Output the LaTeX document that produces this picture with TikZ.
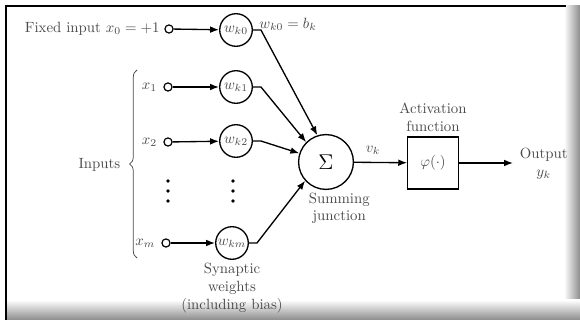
\documentclass[tikz,border=0pt]{standalone}
\usepackage{amsmath,amssymb}
\usepackage{xcolor}
\usepackage{tikz}
\usetikzlibrary{arrows.meta,positioning,calc,decorations.pathreplacing}
\definecolor{inkGray}{HTML}{4A4A4A}
\definecolor{frameGray}{HTML}{8C8C8C}

\begin{document}
\begin{tikzpicture}[x=0.675pt,y=-0.675pt,
    wcirc/.style={circle,draw,line width=0.9pt,minimum size=22pt,
                  inner sep=0pt,text=inkGray},
    termcirc/.style={circle,draw,line width=0.8pt,minimum size=5.5pt,
                     inner sep=0pt},
    sumcirc/.style={circle,draw,line width=0.9pt,minimum size=37pt,
                    inner sep=0pt,font=\Large},
    actbox/.style={rectangle,draw,line width=0.9pt,minimum width=34pt,
                   minimum height=35pt,inner sep=2pt,text=inkGray},
    lbl/.style={font=\normalsize,text=inkGray,align=center,inner sep=1pt},
    dotmark/.style={circle,fill,inner sep=0pt,minimum size=2.6pt},
    sig/.style={line width=0.9pt,-{Latex[length=6pt,width=4.5pt]}}
  ]
  \useasboundingbox (0,0) rectangle (580,320);
  % Frame
  \fill[white] (0,0) rectangle (580,320);
  \shade[left color=white,right color=frameGray] (564,6) rectangle (580,320);
  \shade[top color=white,bottom color=frameGray] (6,300) rectangle (580,320);
  \draw[line width=2pt] (6,320) -- (6,6) -- (566,6);
  % Inputs
  \node[termcirc] (t0) at (169,29) {};
  \node[lbl,left=2pt of t0] (fixlbl) {Fixed input $x_0 = +1$};
  \node[termcirc] (t1) at (168,87) {};
  \node[lbl,left=3pt of t1] (x1lbl) {$x_1$};
  \node[termcirc] (t2) at (168,142) {};
  \node[lbl,left=3pt of t2] (x2lbl) {$x_2$};
  \node[termcirc] (tm) at (166,243) {};
  \node[lbl,left=3pt of tm] (xmlbl) {$x_m$};
  % Synaptic weights
  \node[wcirc] (w0) at (236,30) {$w_{k0}$};
  \node[wcirc] (w1) at (236,87) {$w_{k1}$};
  \node[wcirc] (w2) at (236,141) {$w_{k2}$};
  \node[wcirc] (wm) at (232,243) {$w_{km}$};
  \node[lbl] (bias) at (288,24) {$w_{k0} = b_k$};
  \node[lbl,below=1pt of wm] (synlbl) {Synaptic\\weights\\(including bias)};
  % Dots
  \foreach \y in {181,191,201} {
    \node[dotmark] at (168,\y) {};
    \node[dotmark] at (233,\y) {};
  }
  % Brace
  \draw[line width=0.5pt,inkGray,decorate,decoration={brace,amplitude=5pt}]
    (137,258) -- (137,70);
  \node[lbl,anchor=east] (inlbl) at (122,165) {Inputs};
  % Summing junction and activation
  \node[sumcirc] (sum) at (326,162) {$\Sigma$};
  \node[lbl,anchor=north west] (sumlbl) at (307,191) {Summing\\junction};
  \node[actbox] (act) at (433,163) {$\varphi(\cdot)$};
  \node[lbl,above=2pt of act] (actlbl) {Activation\\function};
  \node[lbl] (vk) at (373,150) {$v_k$};
  \coordinate (out) at (513,163);
  \node[lbl,anchor=west] (outlbl) at (518,164) {Output\\$y_k$};
  % Connectors
  \draw[sig] (t0) -- (w0);
  \draw[sig] (t1) -- (w1);
  \draw[sig] (t2) -- (w2);
  \draw[sig] (tm) -- (wm);
  \draw[sig] (w0.east) -- ++(8,0) -- (sum.108);
  \draw[sig] (w1.east) -- ++(8,0) -- (sum.135);
  \draw[sig] (w2.east) -- ++(8,0) -- (sum.162);
  \draw[sig] (wm.east) -- ++(8,0) -- (sum.222);
  \draw[sig] (sum) -- (act);
  \draw[sig] (act) -- (out);
\end{tikzpicture}
\end{document}
